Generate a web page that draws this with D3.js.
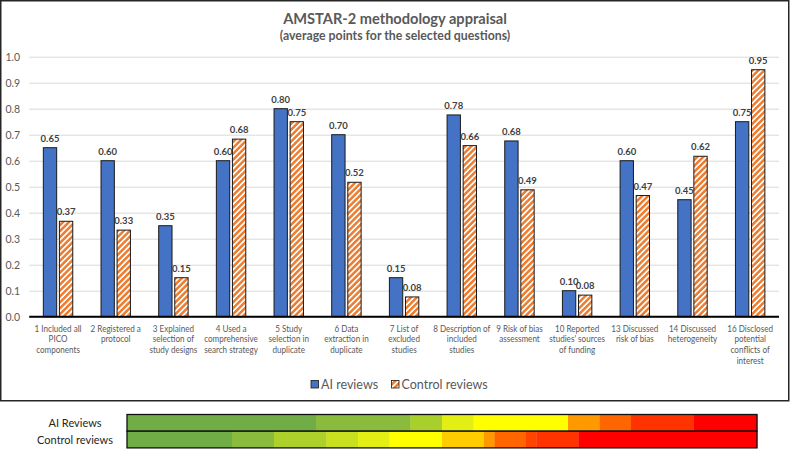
<!DOCTYPE html>
<html>
<head>
<meta charset="utf-8">
<script src="https://cdn.jsdelivr.net/npm/d3@7"></script>
<style>
  html, body { margin: 0; padding: 0; background: #fff; }
  svg { display: block; font-family: Lato, "Open Sans", "Liberation Sans", sans-serif; }
</style>
</head>
<body>
<svg id="chart" width="792" height="449"></svg>
<script>
// ---------- data ----------
const categories = [
  ["1 Included all", "PICO", "components"],
  ["2 Registered a", "protocol"],
  ["3 Explained", "selection of", "study designs"],
  ["4 Used a", "comprehensive", "search strategy"],
  ["5 Study", "selection in", "duplicate"],
  ["6 Data", "extraction in", "duplicate"],
  ["7 List of", "excluded", "studies"],
  ["8 Description of", "included", "studies"],
  ["9 Risk of bias", "assessment"],
  ["10 Reported", "studies' sources", "of funding"],
  ["13 Discussed", "risk of bias"],
  ["14 Discussed", "heterogeneity"],
  ["16 Disclosed", "potential", "conflicts of", "interest"]
];
const seriesNames = ["AI reviews", "Control reviews"];
const aiValues      = [0.65, 0.60, 0.35, 0.60, 0.80, 0.70, 0.15, 0.776, 0.676, 0.10, 0.60, 0.45, 0.75];
const controlValues = [0.367, 0.333, 0.15, 0.683, 0.75, 0.517, 0.076, 0.658, 0.488, 0.083, 0.466, 0.617, 0.95];
const yTicks = [0, 0.1, 0.2, 0.3, 0.4, 0.5, 0.6, 0.7, 0.8, 0.9, 1.0];

// bottom colour strips (units out of a common total per row)
const stripRows = ["AI Reviews", "Control reviews"];
const aiStripColors   = ["#70AD47", "#8BBB3C", "#A9CF2B", "#E2EE14", "#FFFF00", "#FF9900", "#FF6600", "#FF3300", "#FF0000"];
const aiStripUnits    = [6, 3, 1, 1, 3, 1, 1, 2, 2];
const ctrlStripColors = ["#70AD47", "#8BBB3C", "#ADD02B", "#C8E01F", "#E2EE14", "#FFFF00", "#FFCC00", "#FF9900", "#FF6600", "#FF4400", "#FF3300", "#FF0000"];
const ctrlStripUnits  = [10, 4, 5, 3, 3, 5, 4, 1, 3, 1, 4, 17];

// ---------- drawing ----------
const svg = d3.select("#chart");
const textGray = "#595959";

// chart frame
svg.append("rect").attr("x", 0.75).attr("y", 0.75).attr("width", 788).attr("height", 400)
  .attr("fill", "#fff").attr("stroke", "#262626").attr("stroke-width", 1.5);

// title
svg.append("text").attr("x", 395).attr("y", 24).attr("text-anchor", "middle")
  .attr("font-size", 14.6).attr("font-weight", "bold").attr("fill", textGray)
  .text("AMSTAR-2 methodology appraisal");
svg.append("text").attr("x", 395).attr("y", 40).attr("text-anchor", "middle")
  .attr("font-size", 12.3).attr("font-weight", "bold").attr("fill", textGray)
  .text("(average points for the selected questions)");

const plotLeft = 29.2, plotRight = 779, plotTop = 56.7, plotBottom = 316.7;
const y = d3.scaleLinear().domain([0, 1]).range([plotBottom, plotTop]);
const x0 = d3.scaleBand().domain(d3.range(categories.length)).range([plotLeft, plotRight])
  .paddingInner(0.49).paddingOuter(0.245);
const x1 = d3.scaleBand().domain(seriesNames).range([0, x0.bandwidth()]).paddingInner(0.17);

// gridlines + y labels
const yAxis = d3.axisLeft(y).tickValues(yTicks).tickFormat(d3.format(".1f"))
  .tickSize(-(plotRight - plotLeft)).tickPadding(9);
const gy = svg.append("g").attr("transform", `translate(${plotLeft},0)`).call(yAxis);
gy.select(".domain").remove();
gy.selectAll(".tick line").attr("stroke", "#D9D9D9").attr("stroke-width", 1);
gy.selectAll(".tick text").attr("fill", textGray).attr("font-size", 10.5)
  .attr("font-family", "Lato, 'Open Sans', sans-serif");

// hatch pattern
const defs = svg.append("defs");
const pat = defs.append("pattern").attr("id", "hatch").attr("patternUnits", "userSpaceOnUse")
  .attr("width", 4.2).attr("height", 4.2).attr("patternTransform", "rotate(45)");
pat.append("rect").attr("width", 4.2).attr("height", 4.2).attr("fill", "#ED7D31");
pat.append("rect").attr("x", 0).attr("width", 1.7).attr("height", 4.2).attr("fill", "#fff");

const fills = { "AI reviews": "#4472C4", "Control reviews": "url(#hatch)" };
const rows = categories.map((c, i) => ({ i, values: [
  { s: "AI reviews", v: aiValues[i] }, { s: "Control reviews", v: controlValues[i] }] }));

const fmt = d3.format(".2f");
const groups = svg.append("g").selectAll("g").data(rows).join("g")
  .attr("transform", d => `translate(${x0(d.i)},0)`);
groups.selectAll("rect").data(d => d.values).join("rect")
  .attr("x", d => x1(d.s)).attr("y", d => y(d.v))
  .attr("width", x1.bandwidth()).attr("height", d => y(0) - y(d.v))
  .attr("fill", d => fills[d.s]).attr("stroke", "#1a1a1a").attr("stroke-width", 1);
groups.selectAll("text").data(d => d.values).join("text")
  .attr("x", d => x1(d.s) + x1.bandwidth() / 2).attr("y", d => y(d.v) - 6)
  .attr("text-anchor", "middle").attr("font-size", 9.5).attr("font-weight", "bold")
  .attr("fill", "#404040").text(d => fmt(d.v));

// x axis baseline
svg.append("line").attr("x1", plotLeft).attr("x2", plotRight).attr("y1", plotBottom).attr("y2", plotBottom)
  .attr("stroke", "#000").attr("stroke-width", 2);

// category labels (horizontally condensed to mimic a narrow face)
const xl = svg.append("g").selectAll("text").data(categories).join("text")
  .attr("text-anchor", "middle").attr("font-size", 10).attr("fill", textGray)
  .attr("transform", (d, i) => `translate(${x0(i) + x0.bandwidth() / 2},${plotBottom + 15}) scale(0.81,1)`);
xl.selectAll("tspan").data(d => d).join("tspan")
  .attr("x", 0).attr("dy", (d, j) => j === 0 ? 0 : 10.7).text(d => d);

// legend
const legend = svg.append("g");
const legendItems = [{ s: "AI reviews", x: 311 }, { s: "Control reviews", x: 391.5 }];
legend.selectAll("rect").data(legendItems).join("rect")
  .attr("x", d => d.x).attr("y", 380.5).attr("width", 7.5).attr("height", 7.5)
  .attr("fill", d => fills[d.s]).attr("stroke", "#1a1a1a").attr("stroke-width", 0.8);
legend.selectAll("text").data(legendItems).join("text")
  .attr("x", d => d.x + 10).attr("y", 388.5).attr("font-size", 12.5).attr("fill", textGray)
  .text(d => d.s);

// bottom strips
const stripLeft = 127, stripRight = 757, stripTop = 414.5, rowH = 16.7;
const stripData = [
  { label: stripRows[0], colors: aiStripColors, units: aiStripUnits },
  { label: stripRows[1], colors: ctrlStripColors, units: ctrlStripUnits }
];
stripData.forEach((row, r) => {
  const total = d3.sum(row.units);
  const sx = d3.scaleLinear().domain([0, total]).range([stripLeft, stripRight]);
  const cum = d3.cumsum(row.units);
  const cells = row.units.map((u, k) => ({ start: cum[k] - u, end: cum[k], color: row.colors[k] }));
  const yTop = stripTop + r * rowH;
  svg.append("g").selectAll("rect").data(cells).join("rect")
    .attr("x", d => sx(d.start)).attr("width", d => sx(d.end) - sx(d.start) + 0.3)
    .attr("y", yTop).attr("height", rowH).attr("fill", d => d.color);
  svg.append("rect").attr("x", stripLeft).attr("y", yTop).attr("width", stripRight - stripLeft)
    .attr("height", rowH).attr("fill", "none").attr("stroke", "#111").attr("stroke-width", 1.3);
  svg.append("text").attr("x", 75).attr("y", yTop + rowH / 2 + 4).attr("text-anchor", "middle")
    .attr("font-size", 11).attr("fill", "#262626").text(row.label);
});
</script>
</body>
</html>
